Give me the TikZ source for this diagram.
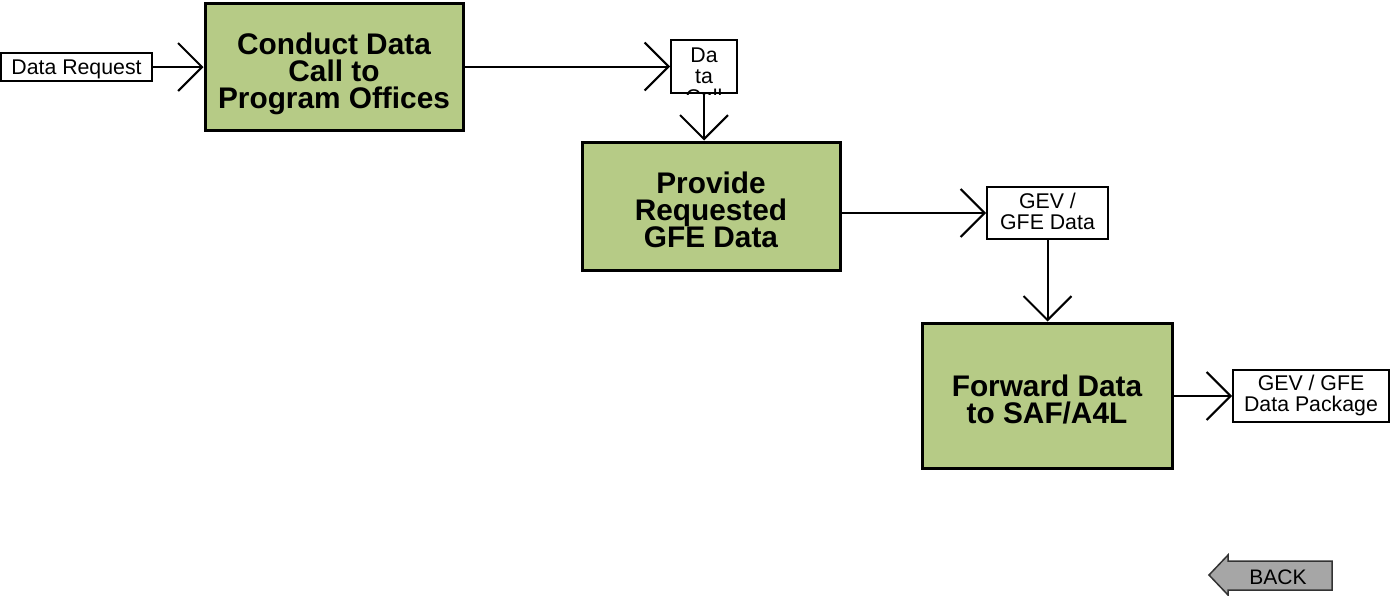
\documentclass[tikz,border=0pt]{standalone}
\usepackage{fontspec}
\setmainfont{Liberation Sans}
\usetikzlibrary{arrows.meta,calc}
\definecolor{procgreen}{RGB}{182,203,134}
\definecolor{backgray}{RGB}{166,166,166}
\tikzset{
  procbox/.style={draw=black, line width=3pt, fill=procgreen, rectangle, inner sep=0pt},
  proctext/.style={align=center, font=\fontsize{29.8}{27}\selectfont\bfseries, inner sep=0pt},
  databox/.style={draw=black, line width=2pt, fill=white, rectangle, align=center,
    font=\fontsize{21.3}{21}\selectfont, inner sep=0pt},
  flow/.style={line width=2pt, -{Straight Barb[length=24pt,width=48pt,line width=2pt]}},
}
\begin{document}
\begin{tikzpicture}[x=1pt,y=-1pt]
\useasboundingbox (0,0) rectangle (1391,595);

\node[databox, minimum width=151, minimum height=28, text height=15.3pt, text depth=0pt] (req) at (76.5,67) {Data Request};

\node[procbox, minimum width=258, minimum height=127] (conduct) at (334,66.5) {};
\node[proctext] (conductlbl) at ($(conduct.center)+(0,7)$) {Conduct Data\\Call to\\Program Offices};

\node[databox, minimum width=66, minimum height=53] (dcall) at (704,66.5) {};
\begin{scope}
  \clip (dcall.south west) rectangle (dcall.north east);
  \node[align=center, inner sep=0pt, anchor=north, font=\fontsize{21.3}{21}\selectfont] (dcalltext) at ($(dcall.north)+(0,9)$) {Da\\ta\\Call};
\end{scope}

\node[procbox, minimum width=258, minimum height=128] (provide) at (711,206) {};
\node[proctext] (providelbl) at ($(provide.center)+(0,3.5)$) {Provide\\Requested\\GFE Data};

\node[databox, minimum width=121, minimum height=52] (gev) at (1047.5,213) {};
\node[align=center, inner sep=0pt, font=\fontsize{21.3}{21}\selectfont] (gevlbl) at ($(gev.center)+(0,-1.5)$) {GEV /\\GFE Data};

\node[procbox, minimum width=250, minimum height=145] (forward) at (1047,395.5) {};
\node[proctext] (forwardlbl) at ($(forward.center)+(0,3.5)$) {Forward Data\\to SAF/A4L};

\node[databox, minimum width=156, minimum height=52] (pkg) at (1311,396) {};
\node[align=center, inner sep=0pt, font=\fontsize{21.3}{21.5}\selectfont] (pkglbl) at ($(pkg.center)+(0,-0.5)$) {GEV / GFE\\Data Package};

\draw[flow] (req.east) -- (req.east -| conduct.west);
\draw[flow] (conduct.east |- dcall.west) -- (dcall.west);
\draw[flow] (dcall.south) -- (dcall.south |- provide.north);
\draw[flow] (provide.east |- gev.west) -- (gev.west);
\draw[flow] (gev.south) -- (gev.south |- forward.north);
\draw[flow] (forward.east |- pkg.west) -- (pkg.west);

\draw[line width=1.5pt, fill=backgray, draw=black!80] (1209,575) -- (1228,555) -- (1228,561) -- (1332,561) -- (1332,590) -- (1228,590) -- (1228,595) -- cycle;
\node[font=\fontsize{21}{21}\selectfont, inner sep=0pt] (back) at (1278,577) {BACK};
\end{tikzpicture}
\end{document}
